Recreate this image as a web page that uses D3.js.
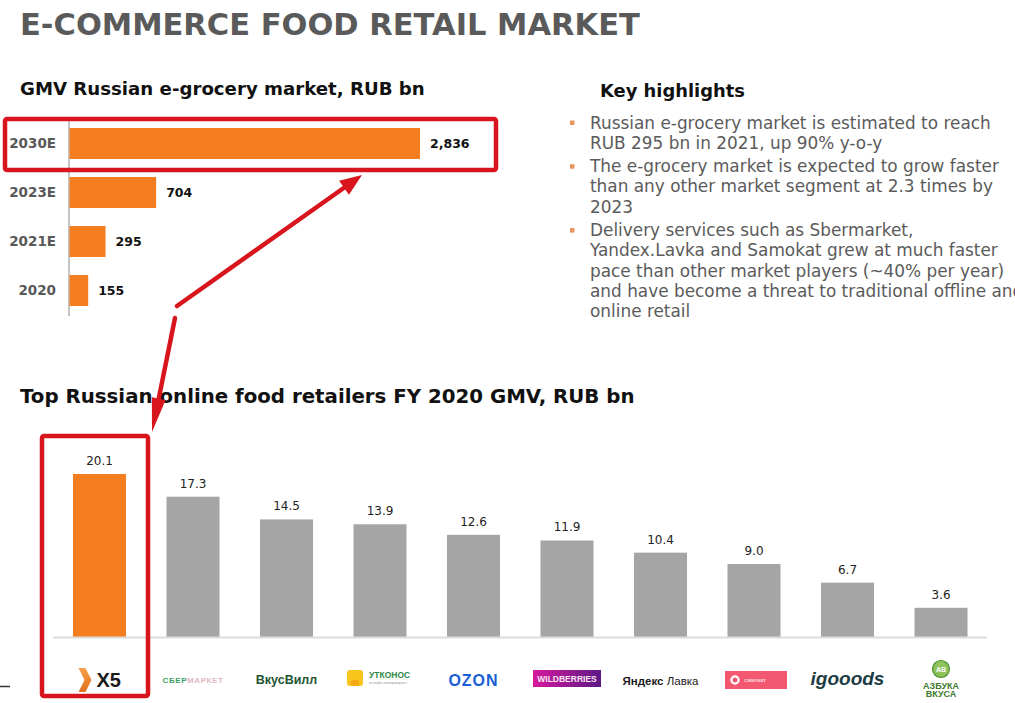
<!DOCTYPE html>
<html>
<head>
<meta charset="utf-8">
<script src="https://cdn.jsdelivr.net/npm/d3@7/dist/d3.min.js"></script>
<style>
  html, body { margin: 0; padding: 0; background: #fff; }
  svg { display: block; }
</style>
</head>
<body>
<svg id="chart" width="1015" height="703"></svg>
<script>
// ---------- DATA ----------
const marketYears = ["2030E", "2023E", "2021E", "2020"];
const marketValues = [2836, 704, 295, 155];

const retailers = ["X5", "СберМаркет", "ВкусВилл", "Утконос", "Ozon", "Wildberries", "Яндекс Лавка", "Самокат", "igooods", "Азбука Вкуса"];
const retailerValues = [20.1, 17.3, 14.5, 13.9, 12.6, 11.9, 10.4, 9.0, 6.7, 3.6];

const highlights = [
  ["Russian e-grocery market is estimated to reach", "RUB 295 bn in 2021, up 90% y-o-y"],
  ["The e-grocery market is expected to grow faster", "than any other market segment at 2.3 times by", "2023"],
  ["Delivery services such as Sbermarket,", "Yandex.Lavka and Samokat grew at much faster", "pace than other market players (~40% per year)", "and have become a threat to traditional offline and", "online retail"]
];

// ---------- STYLE ----------
const ORANGE = "#f47d20";
const GREY_BAR = "#a5a5a5";
const RED = "#d8151c";
const FONT = "'DejaVu Sans', Verdana, sans-serif";

const svg = d3.select("#chart");

function fit(sel, width) {
  const node = sel.node();
  const fs = parseFloat(sel.attr("font-size"));
  const w = node.getComputedTextLength();
  sel.attr("font-size", (fs * width / w).toFixed(2));
}

// ---------- TITLES ----------
const title = svg.append("text").attr("x", 20).attr("y", 35)
  .attr("font-family", FONT).attr("font-weight", "bold").attr("font-size", 30)
  .attr("fill", "#5a5a5a").text("E-COMMERCE FOOD RETAIL MARKET");
fit(title, 620);

const sub1 = svg.append("text").attr("x", 20).attr("y", 95)
  .attr("font-family", FONT).attr("font-weight", "bold").attr("font-size", 16)
  .attr("fill", "#111").text("GMV Russian e-grocery market, RUB bn");
fit(sub1, 405);

const sub2 = svg.append("text").attr("x", 20).attr("y", 403)
  .attr("font-family", FONT).attr("font-weight", "bold").attr("font-size", 16)
  .attr("fill", "#111").text("Top Russian online food retailers FY 2020 GMV, RUB bn");
fit(sub2, 615);

// ---------- TOP HORIZONTAL BAR CHART ----------
const xTop = d3.scaleLinear().domain([0, d3.max(marketValues)]).range([69, 420]);
const yTop = d3.scaleBand().domain(marketYears).range([119, 315])
  .paddingInner(0.367).paddingOuter(0.1835);

svg.append("line").attr("x1", 69).attr("x2", 69).attr("y1", 117).attr("y2", 316)
  .attr("stroke", "#8a8a8a").attr("stroke-width", 1);

svg.append("g").selectAll("rect").data(marketYears).join("rect")
  .attr("x", xTop(0) + 0.5)
  .attr("y", d => yTop(d))
  .attr("width", (d, i) => xTop(marketValues[i]) - xTop(0) - 0.5)
  .attr("height", yTop.bandwidth())
  .attr("fill", ORANGE);

svg.append("g").selectAll("text").data(marketYears).join("text")
  .attr("x", 56).attr("y", d => yTop(d) + yTop.bandwidth() / 2)
  .attr("dy", "0.36em").attr("text-anchor", "end")
  .attr("font-family", FONT).attr("font-weight", "bold").attr("font-size", 13.5)
  .attr("fill", "#595959").text(d => d);

const fmt = d3.format(",");
svg.append("g").selectAll("text").data(marketValues).join("text")
  .attr("x", d => xTop(d) + 10)
  .attr("y", (d, i) => yTop(marketYears[i]) + yTop.bandwidth() / 2)
  .attr("dy", "0.36em")
  .attr("font-family", FONT).attr("font-weight", "bold").attr("font-size", 12.5)
  .attr("fill", "#111").text(d => fmt(d));

// ---------- KEY HIGHLIGHTS ----------
const kh = svg.append("text").attr("x", 600).attr("y", 97)
  .attr("font-family", FONT).attr("font-weight", "bold").attr("font-size", 17)
  .attr("fill", "#111").text("Key highlights");
fit(kh, 145);

const probe = svg.append("text").attr("font-family", FONT).attr("font-size", 16).text(highlights[0][0]);
fit(probe, 401);
const bodySize = probe.attr("font-size");
probe.remove();

const lineGap = 20.2, bulletGap = 23.5;
let yy = 128.5;
const hl = svg.append("g");
highlights.forEach(par => {
  hl.append("rect").attr("x", 570).attr("y", yy - 8).attr("width", 4.5).attr("height", 4.5)
    .attr("fill", "#e5955a");
  par.forEach((ln, j) => {
    hl.append("text").attr("x", 590).attr("y", yy)
      .attr("font-family", FONT).attr("font-size", bodySize).attr("fill", "#5b5b5b").text(ln);
    yy += (j < par.length - 1) ? lineGap : 0;
  });
  yy += bulletGap;
});

// ---------- BOTTOM VERTICAL BAR CHART ----------
const xBot = d3.scaleBand().domain(retailers).range([52.75, 987.75])
  .paddingInner(0.433).paddingOuter(0.2165);
const yBot = d3.scaleLinear().domain([0, d3.max(retailerValues)]).range([637, 474]);

svg.append("g").selectAll("rect").data(retailers).join("rect")
  .attr("x", d => xBot(d))
  .attr("y", (d, i) => yBot(retailerValues[i]))
  .attr("width", xBot.bandwidth())
  .attr("height", (d, i) => yBot(0) - yBot(retailerValues[i]))
  .attr("fill", (d, i) => i === 0 ? ORANGE : GREY_BAR);

svg.append("line").attr("x1", 53).attr("x2", 987).attr("y1", 637.5).attr("y2", 637.5)
  .attr("stroke", "#dcdcdc").attr("stroke-width", 2);

svg.append("g").selectAll("text").data(retailers).join("text")
  .attr("x", d => xBot(d) + xBot.bandwidth() / 2)
  .attr("y", (d, i) => yBot(retailerValues[i]) - 9)
  .attr("text-anchor", "middle")
  .attr("font-family", FONT).attr("font-size", 12)
  .attr("fill", "#222").text((d, i) => retailerValues[i].toFixed(1));

// ---------- LOGOS (drawn approximations) ----------
const defs = svg.append("defs");
const wbg = defs.append("linearGradient").attr("id", "wbGrad");
wbg.append("stop").attr("offset", "0%").attr("stop-color", "#d7189d");
wbg.append("stop").attr("offset", "100%").attr("stop-color", "#5b1a86");
const x5g = defs.append("linearGradient").attr("id", "x5Grad").attr("x1", 0).attr("y1", 0).attr("x2", 0).attr("y2", 1);
x5g.append("stop").attr("offset", "0%").attr("stop-color", "#f6a04a");
x5g.append("stop").attr("offset", "100%").attr("stop-color", "#e0701e");

const LY = 680;
function logo(name) {
  return svg.append("g").attr("transform", `translate(${xBot(name) + xBot.bandwidth() / 2},${LY})`);
}
const SANS = "'Liberation Sans', Arial, sans-serif";

// X5
let g = logo("X5");
g.append("polygon").attr("points", "-21,-12 -14,-12 -8,0 -14,12 -21,12 -15,0").attr("fill", "url(#x5Grad)");
g.append("text").attr("x", -3).attr("y", 7).attr("font-family", SANS).attr("font-weight", "bold")
  .attr("font-size", 20).attr("fill", "#1a1a1a").text("X5");

// СберМаркет
g = logo("СберМаркет");
const sb = g.append("text").attr("x", 0).attr("y", 3).attr("text-anchor", "middle")
  .attr("font-family", SANS).attr("font-weight", "bold").attr("font-size", 8).attr("letter-spacing", 0.6);
sb.append("tspan").attr("fill", "#3aa067").text("СБЕР");
sb.append("tspan").attr("fill", "#e3b9bf").text("МАРКЕТ");

// ВкусВилл
g = logo("ВкусВилл");
g.append("text").attr("x", 0).attr("y", 4).attr("text-anchor", "middle")
  .attr("font-family", SANS).attr("font-weight", "bold").attr("font-size", 12.5)
  .attr("fill", "#1f5433").text("ВкусВилл");

// Утконос
g = logo("Утконос");
g.append("rect").attr("x", -33).attr("y", -10).attr("width", 16).attr("height", 16).attr("rx", 3).attr("fill", "#f7c51c");
g.append("rect").attr("x", -29).attr("y", 0).attr("width", 8).attr("height", 6).attr("rx", 2).attr("fill", "#f3a916");
g.append("text").attr("x", -11).attr("y", -2).attr("font-family", SANS).attr("font-weight", "bold")
  .attr("font-size", 8.5).attr("fill", "#2f8a45").text("УТКОНОС");
g.append("text").attr("x", -11).attr("y", 4).attr("font-family", SANS)
  .attr("font-size", 4).attr("fill", "#999").text("онлайн-гипермаркет");

// Ozon
g = logo("Ozon");
g.append("text").attr("x", 0).attr("y", 6).attr("text-anchor", "middle")
  .attr("font-family", SANS).attr("font-weight", "bold").attr("font-size", 16).attr("letter-spacing", 1)
  .attr("fill", "#1b5fd6").text("OZON");

// Wildberries
g = logo("Wildberries");
g.append("rect").attr("x", -34).attr("y", -10).attr("width", 68).attr("height", 17).attr("fill", "url(#wbGrad)");
g.append("text").attr("x", 0).attr("y", 2).attr("text-anchor", "middle")
  .attr("font-family", SANS).attr("font-weight", "bold").attr("font-size", 8.5)
  .attr("fill", "#fbe6f4").text("WILDBERRIES");

// Яндекс Лавка
g = logo("Яндекс Лавка");
const yl = g.append("text").attr("x", 0).attr("y", 5).attr("text-anchor", "middle")
  .attr("font-family", SANS).attr("font-size", 11.5).attr("fill", "#1a1a1a");
yl.append("tspan").attr("font-weight", "bold").text("Яндекс ");
yl.append("tspan").text("Лавка");

// Самокат
g = logo("Самокат");
g.append("rect").attr("x", -29).attr("y", -9).attr("width", 62).attr("height", 18).attr("fill", "#f2586f");
g.append("circle").attr("cx", -19).attr("cy", 0).attr("r", 3.6).attr("fill", "none").attr("stroke", "#fff").attr("stroke-width", 2.2);
g.append("text").attr("x", -10).attr("y", 2).attr("font-family", SANS).attr("font-weight", "bold")
  .attr("font-size", 5.5).attr("fill", "#ffd6dc").text("самокат");

// igooods
g = logo("igooods");
g.append("text").attr("x", 0).attr("y", 5).attr("text-anchor", "middle")
  .attr("font-family", SANS).attr("font-weight", "bold").attr("font-style", "italic").attr("font-size", 19)
  .attr("fill", "#1d3c44").text("igooods");

// Азбука Вкуса
g = logo("Азбука Вкуса");
g.append("circle").attr("cx", 0).attr("cy", -11).attr("r", 8.5).attr("fill", "#8dc35a").attr("stroke", "#4f8f33").attr("stroke-width", 1.2);
g.append("text").attr("x", 0).attr("y", -8).attr("text-anchor", "middle").attr("font-family", SANS)
  .attr("font-weight", "bold").attr("font-size", 7).attr("fill", "#fff").text("АВ");
g.append("text").attr("x", 0).attr("y", 9).attr("text-anchor", "middle").attr("font-family", SANS)
  .attr("font-weight", "bold").attr("font-size", 9).attr("fill", "#3c7a2c").text("АЗБУКА");
g.append("text").attr("x", 0).attr("y", 17).attr("text-anchor", "middle").attr("font-family", SANS)
  .attr("font-weight", "bold").attr("font-size", 9).attr("fill", "#3c7a2c").text("ВКУСА");

// small dash at left edge
svg.append("line").attr("x1", 0).attr("x2", 10).attr("y1", 686.5).attr("y2", 686.5)
  .attr("stroke", "#333").attr("stroke-width", 1.5);

// ---------- RED HIGHLIGHT ANNOTATIONS ----------
svg.append("rect").attr("x", 5).attr("y", 119).attr("width", 491).attr("height", 51).attr("rx", 2)
  .attr("fill", "none").attr("stroke", RED).attr("stroke-width", 4.5);
svg.append("rect").attr("x", 42).attr("y", 436).attr("width", 106).attr("height", 260).attr("rx", 2)
  .attr("fill", "none").attr("stroke", RED).attr("stroke-width", 4.5);

function arrow(x1, y1, x2, y2, headLen, headW) {
  const ang = Math.atan2(y2 - y1, x2 - x1);
  const bx = x2 - headLen * Math.cos(ang), by = y2 - headLen * Math.sin(ang);
  svg.append("line").attr("x1", x1).attr("y1", y1).attr("x2", bx).attr("y2", by)
    .attr("stroke", RED).attr("stroke-width", 4.5).attr("stroke-linecap", "round");
  const px = -Math.sin(ang) * headW / 2, py = Math.cos(ang) * headW / 2;
  svg.append("polygon")
    .attr("points", `${x2},${y2} ${bx + px},${by + py} ${bx - px},${by - py}`)
    .attr("fill", RED);
}
arrow(177, 306, 362, 175, 22, 17);
arrow(175, 318, 152, 432, 34, 14);
</script>
</body>
</html>
